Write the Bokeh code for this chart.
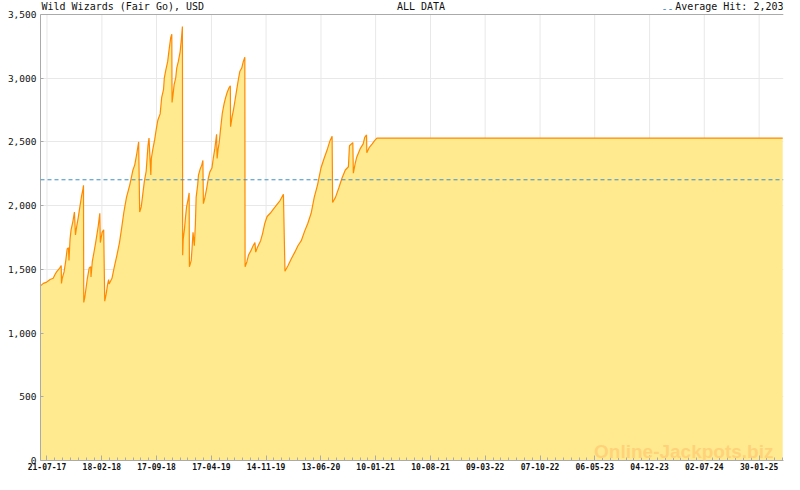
import pandas as pd
from bokeh.plotting import figure
from bokeh.models import (Label, FixedTicker, DatetimeTickFormatter, NumeralTickFormatter,
                          Range1d, Span, ColumnDataSource)
from bokeh.embed import file_html
from bokeh.resources import INLINE

TITLE = "Wild Wizards (Fair Go), USD"
SUBTITLE = "ALL DATA"
AVG_HIT = 2203
AVG_TEXT = "Average Hit: 2,203"
WATERMARK = "Online-Jackpots.biz"

START_DATE = "2017-06-26"
END_DATE = "2025-05-04"

# days since START_DATE of each reading
days_since_start = [
    0, 11, 24, 37, 49, 56, 62, 74, 80, 81,
    84, 91, 97, 103, 108, 110, 114, 118, 125, 131,
    135, 140, 146, 152, 159, 164, 166, 167, 171, 175,
    181, 188, 194, 195, 200, 207, 213, 223, 229, 231,
    238, 244, 248, 253, 259, 263, 265, 276, 284, 295,
    305, 313, 322, 332, 345, 357, 364, 372, 379, 383,
    389, 395, 401, 408, 415, 419, 426, 428, 434, 441,
    447, 453, 462, 468, 475, 478, 484, 491, 497, 503,
    507, 508, 512, 516, 522, 526, 532, 539, 544, 548,
    549, 551, 556, 560, 564, 569, 574, 575, 582, 585,
    589, 594, 598, 601, 607, 610, 617, 623, 627, 629,
    635, 642, 648, 654, 662, 667, 673, 680, 682, 686,
    690, 695, 702, 709, 715, 721, 728, 733, 734, 740,
    745, 751, 758, 764, 770, 777, 783, 789, 790, 797,
    803, 812, 821, 828, 831, 837, 850, 858, 866, 875,
    887, 900, 906, 925, 938, 944, 956, 969, 982, 994,
    1007, 1020, 1032, 1045, 1057, 1070, 1083, 1095, 1108, 1118,
    1126, 1128, 1139, 1152, 1164, 1177, 1189, 1193, 1206, 1208,
    1215, 1221, 1234, 1246, 1252, 1259, 1260, 1269, 1281, 1290,
    1299, 2866,
]

jackpot_usd = [
    1370, 1390, 1400, 1420, 1430, 1460, 1480, 1510, 1530, 1390,
    1430, 1480, 1560, 1660, 1670, 1570, 1735, 1810, 1875, 1950,
    1770, 1840, 1910, 1990, 2080, 2130, 2160, 1240, 1280, 1340,
    1430, 1510, 1520, 1440, 1560, 1640, 1710, 1840, 1940, 1710,
    1790, 1810, 1250, 1300, 1380, 1420, 1385, 1430, 1510, 1610,
    1710, 1820, 1950, 2065, 2165, 2280, 2320, 2410, 2500, 1950,
    1990, 2090, 2190, 2270, 2470, 2530, 2240, 2370, 2445, 2520,
    2600, 2670, 2720, 2850, 2910, 3000, 3065, 3130, 3230, 3320,
    3345, 2810, 2875, 2950, 3000, 3080, 3130, 3205, 3305, 3405,
    1610, 1735, 1820, 1910, 1990, 2040, 2100, 1520, 1570, 1660,
    1790, 1685, 1850, 2065, 2165, 2240, 2290, 2320, 2355, 2015,
    2065, 2140, 2215, 2265, 2295, 2370, 2445, 2560, 2370, 2445,
    2495, 2595, 2725, 2800, 2850, 2890, 2925, 2940, 2620, 2700,
    2750, 2825, 2915, 2990, 3055, 3080, 3130, 3165, 1520, 1560,
    1610, 1645, 1685, 1710, 1635, 1670, 1725, 1785, 1860, 1915,
    1940, 1975, 1990, 2040, 2090, 1485, 1530, 1585, 1635, 1685,
    1725, 1800, 1860, 1940, 2065, 2165, 2295, 2370, 2445, 2510,
    2545, 2025, 2065, 2140, 2215, 2280, 2305, 2470, 2495, 2255,
    2330, 2380, 2445, 2485, 2535, 2555, 2415, 2455, 2485, 2510,
    2530, 2530,
]

x_tick_dates = ["2017-07-21", "2018-02-18", "2018-09-17", "2019-04-17", "2019-11-14",
                "2020-06-13", "2021-01-10", "2021-08-10", "2022-03-09", "2022-10-07",
                "2023-05-06", "2023-12-04", "2024-07-02", "2025-01-30"]
y_ticks = [0, 500, 1000, 1500, 2000, 2500, 3000, 3500]

assert len(days_since_start) == len(jackpot_usd)

MONO = "DejaVu Sans Mono"
FILL = "#FFEA8F"
LINE = "#FF8A00"
GRAY = "#aaaaaa"
GRID = "#e8e8e8"
BLUE = "#3d8fc6"

FRAME_H = 460          # pixels of the plotting frame
HEADER_PX = 14         # header strip above the value area, in pixels
Y_MAX = y_ticks[-1]
Y_TOP = Y_MAX * FRAME_H / (FRAME_H - HEADER_PX)


def ms(ts):
    return pd.Timestamp(ts).value / 1e6


start = pd.Timestamp(START_DATE)
dates = [start + pd.Timedelta(days=d) for d in days_since_start]
x0, x1 = ms(START_DATE), ms(END_DATE)

source = ColumnDataSource(dict(date=dates, jackpot=jackpot_usd))

p = figure(frame_width=743, frame_height=FRAME_H, x_axis_type="datetime",
           x_range=Range1d(x0, x1), y_range=Range1d(0, Y_TOP),
           output_backend="svg", toolbar_location=None,
           min_border_left=40, min_border_right=1, min_border_top=0, min_border_bottom=0)

p.background_fill_color = "white"
p.border_fill_color = "white"
p.outline_line_color = None

# vertical grid lines, only inside the value area
major = [ms(d) for d in x_tick_dates]
p.segment(x0=major, y0=[y_ticks[0]] * len(major), x1=major, y1=[Y_MAX] * len(major),
          line_color=GRID, line_width=1)

p.varea(x="date", y1=0, y2="jackpot", source=source, fill_color=FILL)
p.line(x="date", y="jackpot", source=source, line_color=LINE, line_width=1.2)

p.add_layout(Span(location=AVG_HIT, dimension="width", line_color=BLUE,
                  line_dash="4 3", line_width=1))
# top border of the value area
p.add_layout(Span(location=Y_MAX, dimension="width", line_color=GRAY, line_width=1))

# x axis
step = (major[-1] - major[0]) / (len(major) - 1)
minor = []
for a, b in zip(major[:-1], major[1:]):
    for k in range(1, 7):
        minor.append(a + (b - a) * k / 7)
m = major[-1] + step / 7
while m < x1:
    minor.append(m)
    m += step / 7

p.xaxis.ticker = FixedTicker(ticks=major, minor_ticks=minor)
fmt = "%d-%m-%y"
p.xaxis.formatter = DatetimeTickFormatter(
    microseconds=fmt, milliseconds=fmt, seconds=fmt, minsec=fmt, minutes=fmt,
    hourmin=fmt, hours=fmt, days=fmt, months=fmt, years=fmt)
p.xaxis.major_label_text_font = MONO
p.xaxis.major_label_text_font_size = "8px"
p.xaxis.major_label_text_font_style = "bold"
p.xaxis.major_label_text_color = "#111111"
p.xaxis.major_label_standoff = 2
p.xaxis.major_tick_in = 5
p.xaxis.major_tick_out = 0
p.xaxis.minor_tick_in = 3
p.xaxis.minor_tick_out = 0
p.xaxis.axis_line_color = GRAY
p.xaxis.major_tick_line_color = GRAY
p.xaxis.minor_tick_line_color = GRAY
p.xgrid.visible = False

# y axis
p.yaxis.ticker = FixedTicker(ticks=y_ticks)
p.yaxis.formatter = NumeralTickFormatter(format="0,0")
p.yaxis.bounds = (y_ticks[0], Y_MAX)
p.yaxis.major_label_text_font = MONO
p.yaxis.major_label_text_font_size = "9.5px"
p.yaxis.major_label_text_color = "#111111"
p.yaxis.major_label_standoff = 4
p.yaxis.major_tick_in = 3
p.yaxis.major_tick_out = 0
p.yaxis.minor_tick_line_color = None
p.yaxis.axis_line_color = GRAY
p.yaxis.major_tick_line_color = GRAY
p.ygrid.grid_line_color = GRID

# header texts (in the strip above the value area)
p.add_layout(Label(x=x0, y=Y_MAX, x_offset=1, y_offset=3, text=TITLE,
                   text_baseline="bottom", text_font=MONO, text_font_size="10px",
                   text_color="#111111"))
p.add_layout(Label(x=(x0 + x1) / 2, y=Y_MAX, x_offset=9, y_offset=3, text=SUBTITLE,
                   text_align="center", text_baseline="bottom", text_font=MONO,
                   text_font_size="10px", text_color="#111111"))
p.add_layout(Label(x=x1, y=Y_MAX, x_offset=0, y_offset=3, text=AVG_TEXT,
                   text_align="right", text_baseline="bottom", text_font=MONO,
                   text_font_size="10px", text_color="#111111"))
p.add_layout(Label(x=x1, y=Y_MAX, x_offset=-110, y_offset=3, text="--",
                   text_align="right", text_baseline="bottom", text_font=MONO,
                   text_font_size="10px", text_color=BLUE))

# watermark
p.add_layout(Label(x=x1, y=0, x_offset=-10, y_offset=9, text=WATERMARK,
                   text_align="right", text_baseline="alphabetic",
                   text_font="Liberation Sans", text_font_style="bold",
                   text_font_size="19px", text_color="#FFD27A"))

open("out.html", "w").write(file_html(p, INLINE))
